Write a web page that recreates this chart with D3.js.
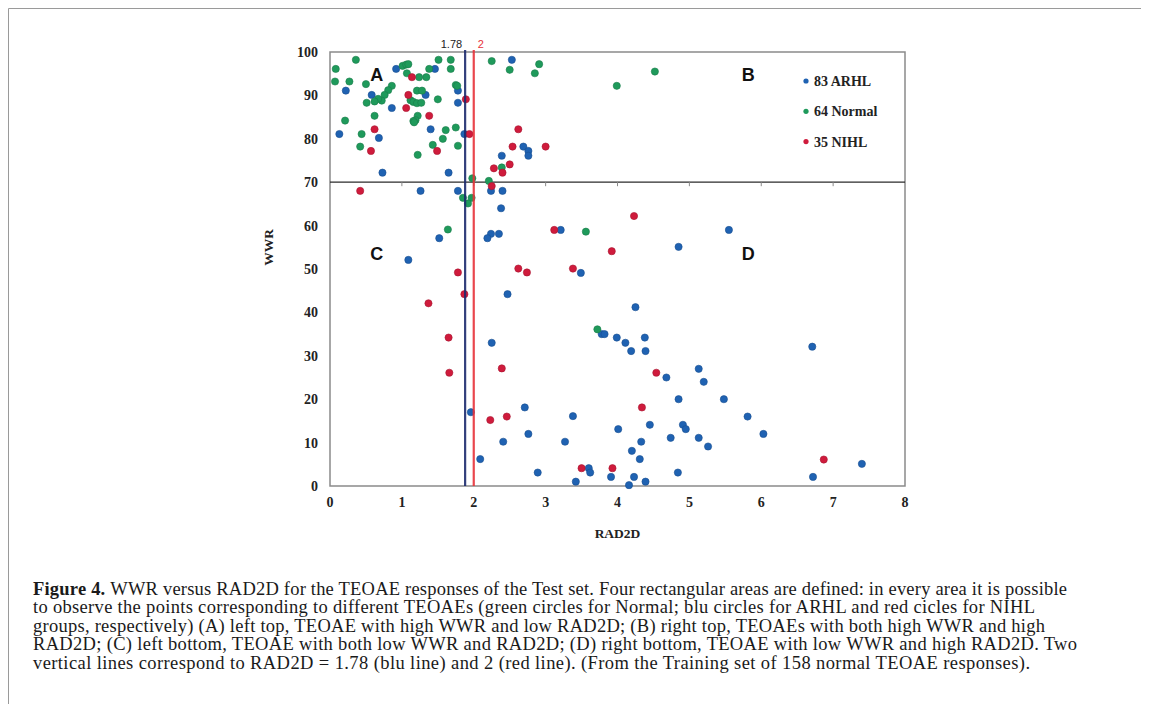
<!DOCTYPE html>
<html>
<head>
<meta charset="utf-8">
<script src="https://cdn.jsdelivr.net/npm/d3@7"></script>
<style>
  body { margin: 0; background: #fff; }
  svg { display: block; }
</style>
</head>
<body>
<div class="graph"></div>
<script>
// Data: [RAD2D, WWR]
var arhl = [
  [0.22, 91.1], [0.92, 96.1], [1.46, 96.1], [1.78, 91.1], [0.58, 90.1], [0.86, 87.1],
  [1.33, 90.1], [1.78, 88.3], [1.40, 82.2], [0.13, 81.1], [0.68, 80.2], [1.87, 81.1],
  [0.73, 72.2], [1.65, 72.2], [2.53, 98.2], [2.69, 78.2], [2.76, 77.2], [2.76, 76.1],
  [2.39, 76.1], [1.26, 68.0], [1.78, 68.0], [2.24, 68.0], [2.40, 68.0], [2.38, 64.0],
  [1.52, 57.1], [2.24, 58.1], [2.19, 57.1], [2.35, 58.1], [1.09, 52.1], [2.47, 44.2],
  [2.25, 33.0], [1.96, 17.0], [2.41, 10.2], [2.09, 6.2], [3.21, 59.0], [4.85, 55.1],
  [3.49, 49.1], [4.25, 41.2], [3.78, 35.0], [3.82, 35.0], [3.99, 34.2], [4.38, 34.2],
  [4.11, 33.0], [4.19, 31.1], [4.39, 31.1], [4.68, 25.0], [5.13, 27.0], [4.85, 20.0],
  [2.71, 18.1], [3.38, 16.1], [4.01, 13.1], [4.45, 14.1], [4.91, 14.1], [4.95, 13.1],
  [2.76, 12.0], [4.74, 11.1], [5.13, 11.1], [3.27, 10.2], [4.33, 10.2], [4.20, 8.1],
  [4.31, 6.2], [3.60, 4.1], [3.62, 3.1], [2.89, 3.1], [3.91, 2.1], [3.42, 1.0],
  [4.23, 2.1], [4.39, 1.0], [4.16, 0.2], [4.84, 3.1], [5.55, 59.0], [6.71, 32.1],
  [5.20, 24.0], [5.48, 20.0], [5.81, 16.0], [6.03, 12.0], [5.26, 9.1], [7.40, 5.1],
  [6.72, 2.1]
];
var normal = [
  [0.08, 96.1], [0.36, 98.2], [0.07, 93.2], [0.27, 93.2], [0.50, 92.6], [1.01, 96.8],
  [1.06, 97.1], [1.09, 97.2], [1.07, 95.1], [1.24, 94.2], [1.34, 94.2], [1.38, 96.1],
  [1.51, 98.2], [1.68, 98.2], [1.68, 96.1], [1.75, 92.4], [1.77, 92.2], [0.86, 92.2],
  [0.81, 91.2], [0.76, 90.1], [0.72, 88.8], [0.67, 89.2], [0.62, 88.6], [0.51, 88.3],
  [1.21, 91.1], [1.28, 91.1], [1.12, 88.9], [1.16, 88.5], [1.21, 88.2], [1.27, 88.3],
  [1.50, 89.1], [0.21, 84.2], [0.62, 85.3], [1.22, 85.3], [1.19, 84.3], [1.16, 84.1],
  [1.17, 83.8], [1.75, 82.6], [1.61, 82.0], [0.44, 81.1], [1.57, 80.0], [1.43, 78.6],
  [1.78, 78.4], [0.42, 78.2], [1.22, 76.3], [1.98, 70.9], [2.21, 70.3], [2.39, 73.4],
  [2.25, 97.9], [2.50, 95.9], [2.91, 97.2], [2.85, 95.1], [3.99, 92.2], [4.52, 95.5],
  [1.85, 66.4], [1.97, 66.4], [1.92, 65.1], [1.64, 59.1], [3.56, 58.6], [3.72, 36.1]
];
var nihl = [
  [1.14, 94.2], [1.09, 90.1], [1.06, 87.1], [1.89, 89.1], [1.38, 85.3], [0.62, 82.2],
  [1.94, 81.1], [0.57, 77.2], [1.49, 77.2], [2.25, 69.1], [2.28, 73.2], [2.40, 72.2],
  [2.50, 74.1], [2.54, 78.2], [2.62, 82.2], [3.00, 78.2], [0.42, 68.0], [1.78, 49.2],
  [1.87, 44.2], [1.37, 42.1], [1.65, 34.2], [1.66, 26.1], [2.39, 27.1], [2.23, 15.2],
  [2.46, 16.0], [4.23, 62.2], [3.12, 59.0], [3.92, 54.1], [2.62, 50.1], [2.74, 49.2],
  [3.38, 50.1], [4.54, 26.1], [4.34, 18.1], [3.50, 4.1], [3.93, 4.1], [6.87, 6.1]
];

var seriesNames = ["83 ARHL", "64 Normal", "35 NIHL"];
var xTicks = [0, 1, 2, 3, 4, 5, 6, 7, 8];
var yTicks = [0, 10, 20, 30, 40, 50, 60, 70, 80, 90, 100];
var wwrCut = 70;
var cutValues = [1.88, 2];
var cutLabels = ["1.78", "2"];
var areaLabels = ["A", "B", "C", "D"];
var captionLines = [
  "WWR versus RAD2D for the TEOAE responses of the Test set. Four rectangular areas are defined: in every area it is possible",
  "to observe the points corresponding to different TEOAEs (green circles for Normal; blu circles for ARHL and red cicles for NIHL",
  "groups, respectively) (A) left top, TEOAE with high WWR and low RAD2D; (B) right top, TEOAEs with both high WWR and high",
  "RAD2D; (C) left bottom, TEOAE with both low WWR and RAD2D; (D) right bottom, TEOAE with low WWR and high RAD2D. Two",
  "vertical lines correspond to RAD2D = 1.78 (blu line) and 2 (red line). (From the Training set of 158 normal TEOAE responses)."
];

// Configuration
var blueColour = "#1f62b2";
var greenColour = "#1f9a5b";
var redColour = "#cf1b3c";
var serif = "Times New Roman, Liberation Serif, Times, serif";
var sans = "Liberation Sans, Arial, sans-serif";

var width = 1153, height = 704;

var x = d3.scaleLinear().domain([0, 8]).range([330, 905]);
var y = d3.scaleLinear().domain([0, 100]).range([486, 52]);

var svg = d3.select(".graph").append("svg")
    .attr("width", width)
    .attr("height", height);

// outer frame of the figure
svg.append("path")
    .attr("d", "M8.5,704 V8.5 H1141")
    .style("fill", "none")
    .style("stroke", "#9a9a9a")
    .style("stroke-width", 1);

// plot frame
svg.append("rect")
    .attr("x", x(0)).attr("y", y(100))
    .attr("width", x(8) - x(0)).attr("height", y(0) - y(100))
    .style("fill", "none")
    .style("stroke", "#8a8a8a")
    .style("stroke-width", 1.5);

// horizontal line at WWR = 70 with small ticks
svg.append("line")
    .attr("x1", x(0)).attr("x2", x(8))
    .attr("y1", y(wwrCut)).attr("y2", y(wwrCut))
    .style("stroke", "#2b2b2b")
    .style("stroke-width", 1.3);

svg.selectAll(".cuttick")
    .data(xTicks.slice(1, -1))
    .enter().append("line")
    .attr("x1", function(d) { return x(d); })
    .attr("x2", function(d) { return x(d); })
    .attr("y1", y(wwrCut))
    .attr("y2", y(wwrCut) + 4)
    .style("stroke", "#8a8a8a")
    .style("stroke-width", 1);

// tick labels
svg.selectAll(".ylab")
    .data(yTicks)
    .enter().append("text")
    .attr("x", 318)
    .attr("y", function(d) { return y(d) + 5; })
    .attr("text-anchor", "end")
    .style("font-family", serif)
    .style("font-weight", "bold")
    .style("font-size", "14px")
    .style("fill", "#222")
    .text(function(d) { return d; });

svg.selectAll(".xlab")
    .data(xTicks)
    .enter().append("text")
    .attr("x", function(d) { return x(d); })
    .attr("y", 507)
    .attr("text-anchor", "middle")
    .style("font-family", serif)
    .style("font-weight", "bold")
    .style("font-size", "14px")
    .style("fill", "#222")
    .text(function(d) { return d; });

svg.append("text")
    .attr("x", x(4)).attr("y", 538)
    .attr("text-anchor", "middle")
    .style("font-family", serif)
    .style("font-weight", "bold")
    .style("font-size", "13.5px")
    .style("fill", "#222")
    .text("RAD2D");

svg.append("text")
    .attr("transform", "translate(273," + y(55) + ") rotate(-90)")
    .attr("text-anchor", "middle")
    .style("font-family", serif)
    .style("font-weight", "bold")
    .style("font-size", "13.5px")
    .style("fill", "#222")
    .text("WWR");

// points
var groups = [
  {data: arhl, colour: blueColour},
  {data: normal, colour: greenColour},
  {data: nihl, colour: redColour}
];

groups.forEach(function(g) {
    svg.append("g").selectAll("circle")
        .data(g.data)
        .enter().append("circle")
        .attr("cx", function(d) { return x(d[0]); })
        .attr("cy", function(d) { return y(d[1]); })
        .attr("r", 3.6)
        .style("fill", g.colour)
        .style("stroke", d3.color(g.colour).darker(0.6))
        .style("stroke-width", 0.6);
});

// vertical threshold lines
var cutColours = ["#1c2b6e", "#e8333a"];
svg.selectAll(".cut")
    .data(cutValues)
    .enter().append("line")
    .attr("x1", function(d) { return x(d); })
    .attr("x2", function(d) { return x(d); })
    .attr("y1", y(100) - 2)
    .attr("y2", y(0))
    .style("stroke", function(d, i) { return cutColours[i]; })
    .style("stroke-width", 2.2)
    .style("opacity", 0.9);

svg.selectAll(".cutlabel")
    .data(cutValues)
    .enter().append("text")
    .attr("x", function(d, i) { return i === 0 ? x(d) - 3 : x(d) + 4; })
    .attr("y", 48)
    .attr("text-anchor", function(d, i) { return i === 0 ? "end" : "start"; })
    .style("font-family", sans)
    .style("font-size", "11px")
    .style("fill", function(d, i) { return i === 0 ? "#222" : "#e8333a"; })
    .text(function(d, i) { return cutLabels[i]; });

// area letters
var areaPos = [[0.65, 93.4], [5.82, 93.4], [0.65, 52], [5.82, 52]];
svg.selectAll(".area")
    .data(areaLabels)
    .enter().append("text")
    .attr("x", function(d, i) { return x(areaPos[i][0]); })
    .attr("y", function(d, i) { return y(areaPos[i][1]); })
    .attr("text-anchor", "middle")
    .style("font-family", sans)
    .style("font-weight", "bold")
    .style("font-size", "18px")
    .style("fill", "#111")
    .text(function(d) { return d; });

// legend
var legend = svg.selectAll(".legend")
    .data(seriesNames)
    .enter().append("g")
    .attr("transform", function(d, i) { return "translate(806," + (81 + i * 30.3) + ")"; });

legend.append("circle")
    .attr("r", 2.6)
    .style("fill", function(d, i) { return groups[i].colour; });

legend.append("text")
    .attr("x", 8)
    .attr("y", 5)
    .style("font-family", serif)
    .style("font-weight", "bold")
    .style("font-size", "14px")
    .style("fill", "#222")
    .text(function(d) { return d; });

// caption
var captionEnds = [1067, 1035, 1045, 1077, 1030];
var cap = svg.selectAll(".caption")
    .data(captionLines)
    .enter().append("text")
    .attr("x", 33)
    .attr("y", function(d, i) { return 594.5 + i * 18.65; })
    .attr("textLength", function(d, i) { return captionEnds[i] - 33; })
    .attr("lengthAdjust", "spacing")
    .style("font-family", serif)
    .style("font-size", "18.5px")
    .style("fill", "#1a1a1a");

cap.filter(function(d, i) { return i === 0; })
    .append("tspan")
    .style("font-weight", "bold")
    .text("Figure 4. ");

cap.append("tspan")
    .text(function(d) { return d; });
</script>
</body>
</html>
